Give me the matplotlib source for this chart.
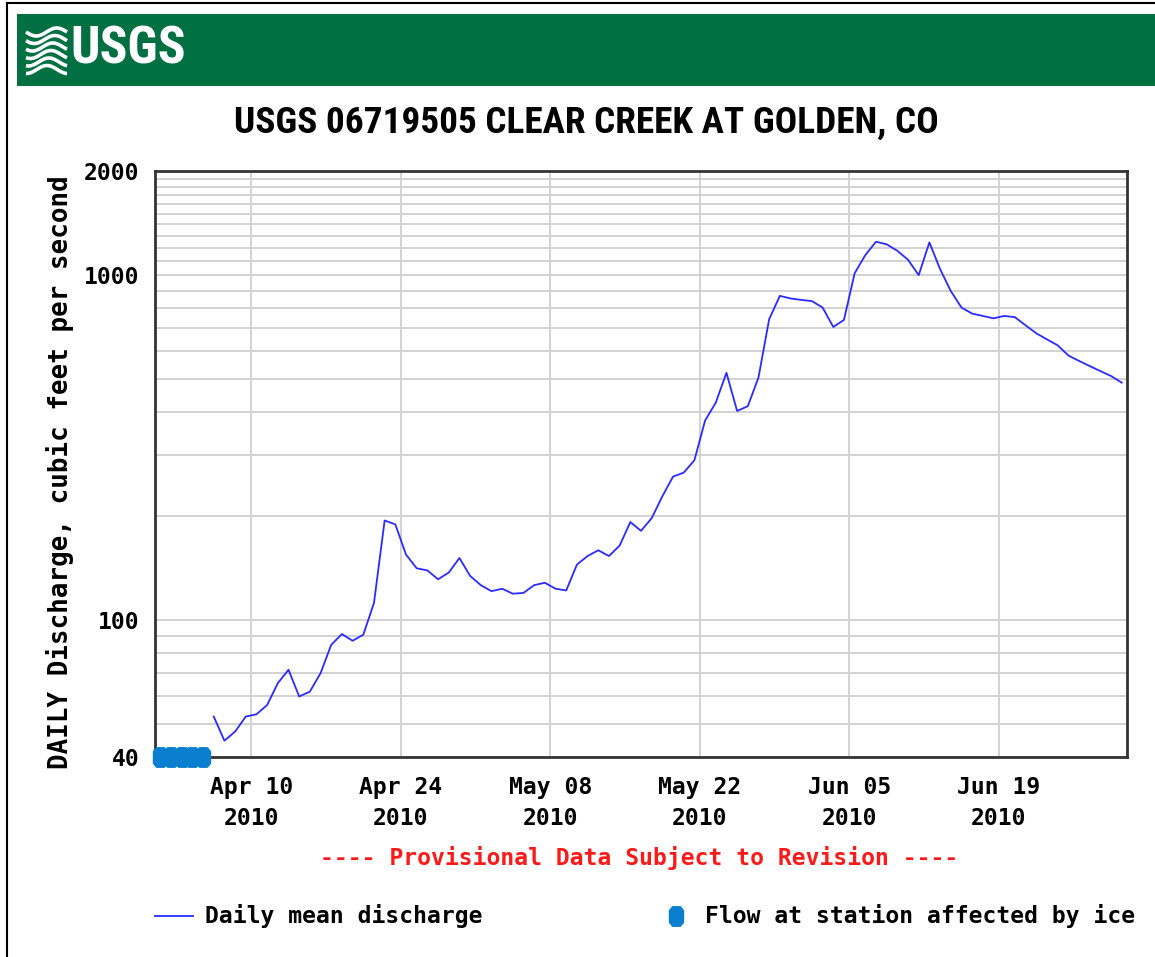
import numpy as np
import pandas as pd
import matplotlib
matplotlib.use("Agg")
import matplotlib.pyplot as plt
import matplotlib.dates as mdates
from matplotlib import font_manager
from matplotlib.lines import Line2D
from matplotlib.patches import Rectangle
from matplotlib.path import Path
from matplotlib.ticker import FixedLocator, FixedFormatter, NullLocator

# ---------------- data ----------------
title = "USGS 06719505 CLEAR CREEK AT GOLDEN, CO"
ylabel = "DAILY Discharge, cubic feet per second"
flow_start = "2010-04-06"
flow_values = [
    52.4, 44.6, 47.4, 52.4, 53.2, 56.6, 65.5, 71.6, 59.9, 61.9,
    70.0, 84.6, 90.9, 86.9, 90.5, 111.8, 194, 189, 154.5, 141,
    139, 131, 137, 151, 134,
    126, 121, 123, 119, 119.6, 126, 128, 123, 121.6, 144.5,
    153, 159, 153, 164, 192, 181, 197, 228, 260, 267,
    290, 378, 426, 520, 403, 416, 504, 744, 869, 854, 846,
    839, 804, 706, 740, 1010, 1141, 1247, 1226, 1174, 1106,
    998, 1242, 1039, 898, 804, 772, 760, 748, 760, 754,
    714, 677, 650, 625, 584, 563, 544, 526, 509, 487,
]
ice_dates = ["2010-04-01", "2010-04-02", "2010-04-03", "2010-04-04", "2010-04-05"]
ice_values = [40, 40, 40, 40, 40]
x_tick_dates = ["2010-04-10", "2010-04-24", "2010-05-08", "2010-05-22", "2010-06-05", "2010-06-19"]
x_tick_labels = ["Apr 10\n2010", "Apr 24\n2010", "May 08\n2010", "May 22\n2010", "Jun 05\n2010", "Jun 19\n2010"]
y_grid_values = [50, 60, 70, 80, 90, 100, 200, 300, 400, 500, 600, 700, 800, 900,
                 1000, 1100, 1200, 1300, 1400, 1500, 1600, 1700, 1800, 1900]
y_label_values = [40, 100, 1000, 2000]
y_label_texts = ["40", "100", "1000", "2000"]
legend_line_label = "Daily mean discharge"
legend_ice_label = "Flow at station affected by ice"
provisional_text = "---- Provisional Data Subject to Revision ----"

# ---------------- fonts ----------------
fl = font_manager.fontManager.ttflist
names = {f.name for f in fl}
narrow_family = None
narrow_stretch = "normal"
for cand in ["Liberation Sans Narrow", "Roboto Condensed", "Open Sans Condensed",
             "Noto Sans Condensed", "DejaVu Sans Condensed"]:
    if cand in names:
        narrow_family = cand
        break
if narrow_family is None:
    conds = [f for f in fl if str(f.stretch) in ("condensed", "semi-condensed", "extra-condensed")
             or (isinstance(f.stretch, int) and f.stretch < 500)]
    if conds:
        narrow_family = conds[0].name
        narrow_stretch = "condensed"
    else:
        narrow_family = "Liberation Sans"
narrow = [narrow_family, "DejaVu Sans"]
mono = ["DejaVu Sans Mono"]

# ---------------- figure ----------------
W, H = 1155, 957
fig = plt.figure(figsize=(W / 100, H / 100), dpi=100)
fig.patch.set_facecolor("white")

def fx(x):
    return np.asarray(x) / W

def fy(y):
    return 1 - np.asarray(y) / H

# outer border
fig.add_artist(Line2D([fx(7), fx(7)], [fy(3), fy(957)], color="black", lw=1.5))
fig.add_artist(Line2D([fx(7), fx(1155)], [fy(3), fy(3)], color="black", lw=1.5))

# green banner
green = "#006f41"
fig.add_artist(Rectangle((fx(17), fy(86)), fx(1155) - fx(17), fy(14) - fy(86),
                         transform=fig.transFigure, facecolor=green, edgecolor="none"))
# logo icon: white waves
xs = np.linspace(26, 67, 60)
for k in range(6):
    base = 32 + k * 7.5
    yy = base + 4 * np.sin((xs - 26) / 41 * 2 * np.pi + k * 0.3)
    fig.add_artist(Line2D(fx(xs), fy(yy), color="white", lw=2.6, solid_capstyle="butt"))
logo = fig.text(fx(70), fy(50), "USGS", color="white", fontsize=38, fontweight="bold",
                family=narrow, va="center", ha="left", fontstretch=narrow_stretch)

# title
ttl = fig.text(fx(586), fy(123), title, fontsize=25, fontweight="bold", family=narrow,
               ha="center", va="center", color="#000000", fontstretch=narrow_stretch)

# fit widths of title and logo to the reference
renderer = fig.canvas.get_renderer()
for t, target in ((ttl, 705), (logo, 116)):
    w = t.get_window_extent(renderer).width
    t.set_fontsize(t.get_fontsize() * target / w)

# ---------------- axes ----------------
ax = fig.add_axes([fx(155), fy(757), fx(1127) - fx(155), fy(171) - fy(757)])
dates = pd.date_range(flow_start, periods=len(flow_values), freq="D") + pd.Timedelta(hours=12)
ice_x = pd.to_datetime(ice_dates) + pd.Timedelta(hours=12)

ax.set_yscale("log")
ax.set_ylim(40, 2000)
ax.set_xlim(pd.Timestamp("2010-04-01"), pd.Timestamp("2010-07-01"))

ice_marker = Path([(-0.2, 0.5), (0.2, 0.5), (0.36, 0.3), (0.36, -0.3), (0.2, -0.5),
                   (-0.2, -0.5), (-0.36, -0.3), (-0.36, 0.3), (-0.2, 0.5)], closed=True)
ice_color = "#0a7fd0"
line_color = "#2b2bff"

ax.plot(dates, flow_values, color=line_color, lw=1.3, zorder=3)
ax.plot(ice_x, ice_values, linestyle="none", marker=ice_marker, markersize=14,
        color=ice_color, markeredgecolor=ice_color, clip_on=False, zorder=4)

# y ticks: labels only for some; gridlines for all
ax.yaxis.set_major_locator(FixedLocator(y_label_values))
ax.yaxis.set_major_formatter(FixedFormatter(y_label_texts))
ax.yaxis.set_minor_locator(FixedLocator(y_grid_values))
ax.yaxis.set_minor_formatter(FixedFormatter([""] * len(y_grid_values)))
ax.tick_params(axis="y", which="both", length=0, pad=11)
ax.grid(True, axis="y", which="both", color="#d2d2d2", lw=1.4, zorder=1)

ax.xaxis.set_major_locator(FixedLocator(mdates.date2num(pd.to_datetime(x_tick_dates))))
ax.xaxis.set_major_formatter(FixedFormatter(x_tick_labels))
ax.xaxis.set_minor_locator(NullLocator())
ax.tick_params(axis="x", which="both", length=0, pad=14)
ax.grid(True, axis="x", which="major", color="#d2d2d2", lw=1.4, zorder=1)
ax.set_axisbelow(True)

FS = 16.6
for lab in ax.get_xticklabels():
    lab.set_family(mono)
    lab.set_fontweight("bold")
    lab.set_fontsize(FS)
    lab.set_linespacing(1.4)
for lab in ax.get_yticklabels():
    lab.set_family(mono)
    lab.set_fontweight("bold")
    lab.set_fontsize(FS)

for sp in ax.spines.values():
    sp.set_color("#333333")
    sp.set_linewidth(2)

fig.text(fx(60), fy(472), ylabel, rotation=90, family=mono, fontweight="bold",
         fontsize=18.6, ha="center", va="center")

# provisional note
fig.text(fx(639), fy(858), provisional_text, color="#ff1a1a", family=mono,
         fontweight="bold", fontsize=FS, ha="center", va="center")

# legend (manual)
fig.add_artist(Line2D([fx(155), fx(193)], [fy(916), fy(916)], color=line_color, lw=1.3))
fig.text(fx(205), fy(916), legend_line_label, family=mono, fontweight="bold",
         fontsize=FS, ha="left", va="center")
fig.add_artist(Line2D([fx(676)], [fy(916)], linestyle="none", marker=ice_marker, markersize=14,
                      color=ice_color))
fig.text(fx(705), fy(916), legend_ice_label, family=mono, fontweight="bold",
         fontsize=FS, ha="left", va="center")

fig.savefig("out.png", dpi=100)
